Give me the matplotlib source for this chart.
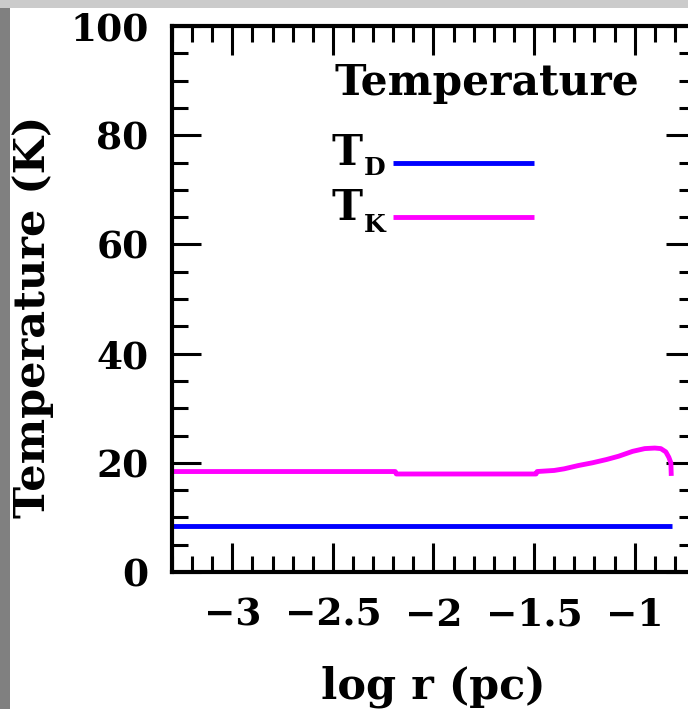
import matplotlib
matplotlib.use("Agg")
import matplotlib.pyplot as plt
from matplotlib.patches import Rectangle
from matplotlib.ticker import MultipleLocator, FuncFormatter

# Radial temperature profiles
log_r_dust = [-3.30, -0.815]
T_dust = [8.45, 8.45]

log_r_kin = [-3.30, -2.60, -2.19, -2.185, -1.80, -1.49, -1.485, -1.40, -1.35,
             -1.28, -1.21, -1.14, -1.08, -1.01, -0.95, -0.90, -0.87, -0.845,
             -0.83, -0.82, -0.818]
T_kin = [18.4, 18.4, 18.4, 17.95, 17.95, 17.95, 18.4, 18.6, 18.9,
         19.5, 20.0, 20.6, 21.2, 22.1, 22.6, 22.7, 22.6, 22.0,
         21.0, 20.0, 17.6]

plt.rcParams["font.family"] = ["DejaVu Serif"]
plt.rcParams["font.weight"] = "bold"
plt.rcParams["axes.unicode_minus"] = True

W, H = 688, 709
fig = plt.figure(figsize=(W / 100, H / 100), dpi=100)
fig.patch.set_facecolor("white")

# frame bands along top and left edges
fig.patches.append(Rectangle((0, 1 - 8 / H), 1, 8 / H, transform=fig.transFigure,
                             facecolor="#cbcbcb", edgecolor="none", zorder=-1))
fig.patches.append(Rectangle((0, 0), 10 / W, 1 - 8 / H, transform=fig.transFigure,
                             facecolor="#808080", edgecolor="none", zorder=-1))

ax = fig.add_axes([172 / W, 137 / H, (695 - 172) / W, (572 - 26) / H])
ax.set_xlim(-3.30, -0.70)
ax.set_ylim(0, 100)

ax.plot(log_r_dust, T_dust, color="#0000ff", lw=3.5, solid_capstyle="butt")
ax.plot(log_r_kin, T_kin, color="#ff00ff", lw=3.5, solid_capstyle="butt")

ax.xaxis.set_major_locator(MultipleLocator(0.5))
ax.xaxis.set_minor_locator(MultipleLocator(0.1))
ax.yaxis.set_major_locator(MultipleLocator(20))
ax.yaxis.set_minor_locator(MultipleLocator(5))
ax.tick_params(which="both", direction="in", top=True, right=True, width=2.2,
               labelsize=27)
ax.tick_params(which="major", length=21)
ax.tick_params(which="minor", length=11.5)
ax.tick_params(axis="x", pad=18)
ax.tick_params(axis="y", pad=17)
ax.xaxis.set_major_formatter(FuncFormatter(
    lambda v, p: ("%g" % v).replace("-", "\u2212")))
for s in ax.spines.values():
    s.set_linewidth(3)

# legend block
ax.text(-2.49, 87.3, "Temperature", fontsize=30.5, ha="left", va="baseline")
ax.text(-2.505, 74.5, "T", fontsize=30, ha="left", va="baseline")
ax.text(-2.345, 72.7, "D", fontsize=18, ha="left", va="baseline")
ax.plot([-2.20, -1.50], [75, 75], color="#0000ff", lw=3.5, solid_capstyle="butt")
ax.text(-2.505, 64.4, "T", fontsize=30, ha="left", va="baseline")
ax.text(-2.345, 62.2, "K", fontsize=18, ha="left", va="baseline")
ax.plot([-2.20, -1.50], [65, 65], color="#ff00ff", lw=3.5, solid_capstyle="butt")

fig.text(33 / W, 1 - 317 / H, "Temperature (K)", rotation=90, fontsize=31,
         ha="center", va="center")
fig.text(433 / W, 1 - 687 / H, "log r (pc)", fontsize=31, ha="center", va="center")

fig.savefig("out.png", dpi=100)
